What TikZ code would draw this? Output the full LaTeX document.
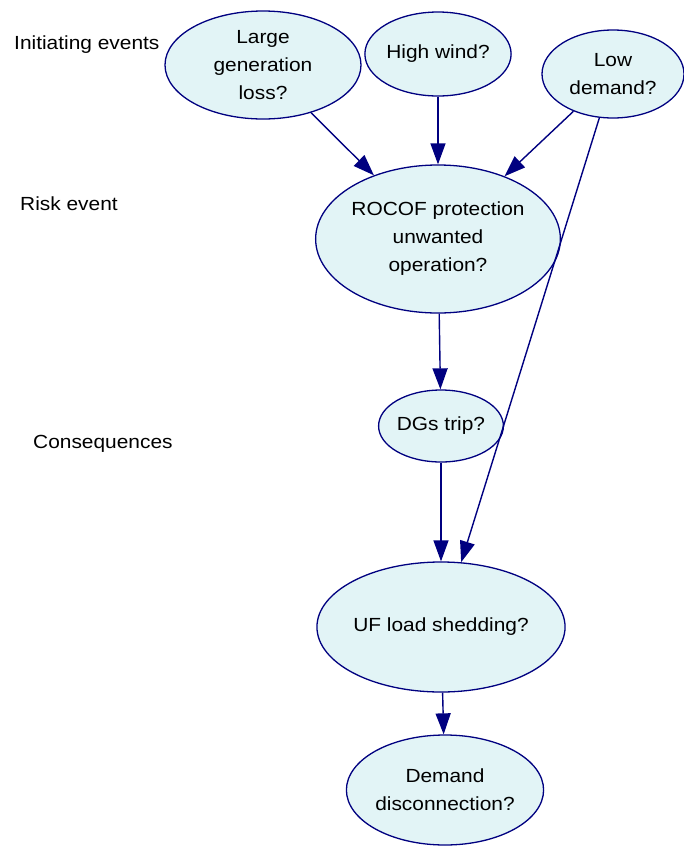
\documentclass[tikz,border=0pt]{standalone}
\usepackage{fontspec}
\setmainfont{Liberation Sans}[FakeStretch=1.1]
\usetikzlibrary{shapes.geometric,arrows.meta}
\definecolor{nodefill}{RGB}{226,244,246}
\definecolor{navy}{RGB}{0,0,128}
\begin{document}
\begin{tikzpicture}[x=1pt,y=-1pt,
  bn/.style={ellipse, draw=navy, fill=nodefill, line width=1.3pt, inner sep=0pt,
    align=center, font=\fontsize{19}{28}\selectfont},
  lab/.style={anchor=west, inner sep=0pt, font=\fontsize{19}{28}\selectfont},
  link/.style={draw=navy, line width=1.4pt, -{Triangle[length=21pt,width=15pt]}}]
\useasboundingbox (0,0) rectangle (684,847);
\fill[white] (0,0) rectangle (684,847);

\node[lab] (l1) at (14,45) {Initiating events};
\node[lab] (l2) at (20,204) {Risk event};
\node[lab] (l3) at (33,444) {Consequences};

\node[bn, minimum width=196pt, minimum height=108pt] (lgl) at (263,65) {Large\\generation\\loss?};
\node[bn, minimum width=126pt, minimum height=84pt] (hw) at (438,54) {High wind?};
\node[bn, minimum width=142pt, minimum height=88pt] (ld) at (613,74) {Low\\demand?};
\node[bn, minimum width=236pt, minimum height=148pt] (rocof) at (438,239) {ROCOF protection\\unwanted\\operation?};
\node[bn, minimum width=116pt, minimum height=72pt] (dg) at (441,426) {DGs trip?};
\node[bn, minimum width=208pt, minimum height=130pt] (uf) at (441,627) {UF load shedding?};
\node[bn, minimum width=190pt, minimum height=110pt] (dd) at (445,790) {Demand\\disconnection?};

\draw[link] (lgl) -- (rocof);
\draw[link] (hw) -- (rocof);
\draw[link] (ld) -- (rocof);
\draw[link] (ld) -- (uf);
\draw[link] (rocof) -- (dg);
\draw[link] (dg) -- (uf);
\draw[link] (uf) -- (dd);
\end{tikzpicture}
\end{document}
